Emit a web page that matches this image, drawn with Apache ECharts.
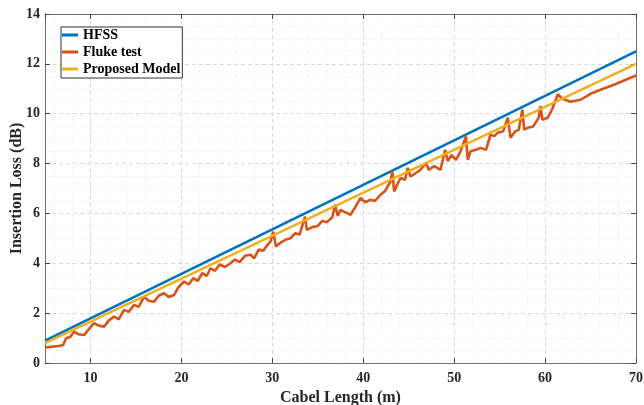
<!DOCTYPE html>
<html>
<head>
<meta charset="utf-8">
<script src="https://cdn.jsdelivr.net/npm/echarts@6/dist/echarts.min.js"></script>
<style>
html,body{margin:0;padding:0;background:#fff;}
#c{width:644px;height:405px;}
</style>
</head>
<body>
<div id="c"></div>
<script>
// ---- data ----
const hfssLen = [5, 70];
const hfssLoss = [0.9, 12.5];
const modelLen = [5, 70];
const modelLoss = [0.8, 12.0];
const flukeLen = [5,5.5,6,6.5,7,7.3,7.8,8.2,8.7,9.3,9.8,10.4,10.9,11.5,12,12.6,13.1,13.7,14.2,14.8,15.3,15.9,16.4,17,17.5,18.1,18.6,19.2,19.7,20.3,20.8,
  21.3,21.8,22.3,22.8,23.2,23.7,24.2,24.8,25.4,25.9,26.4,27,27.6,28,28.5,29,29.5,29.8,30.1,30.4,31,31.5,32,32.5,33,33.6,33.8,34.4,35,
  35.5,36,36.6,36.9,37.2,37.5,38,38.6,39.2,39.7,40.2,40.8,41.3,41.9,42.4,43,43.2,43.4,43.8,44.1,44.6,44.9,45.2,45.7,46.3,46.9,47.2,47.8,48.5,49,49.3,
  49.7,50.2,50.7,51.3,51.5,51.8,52.4,52.9,53.5,54,54.4,54.8,55.4,55.9,56.2,56.7,57.1,57.5,57.7,58.2,58.7,59.3,59.5,59.7,60.3,60.8,61.4,61.9,62.8,63.9,65,66.1,67.5,69,70];
const flukeLoss = [0.62,0.64,0.66,0.68,0.72,0.98,1.05,1.26,1.15,1.12,1.35,1.6,1.5,1.46,1.7,1.86,1.75,2.13,2.05,2.33,2.25,2.66,2.5,2.46,2.7,2.8,2.65,2.73,3.05,3.27,3.15,
  3.4,3.3,3.6,3.5,3.8,3.7,3.95,3.85,4.0,4.15,4.05,4.3,4.34,4.2,4.55,4.5,4.75,4.87,5.27,4.67,4.85,4.95,5.0,5.2,5.15,5.87,5.34,5.45,5.5,
  5.7,5.65,5.85,6.35,5.9,6.14,6.05,5.94,6.3,6.62,6.45,6.55,6.5,6.75,6.9,7.28,7.7,6.88,7.2,7.42,7.35,7.83,7.48,7.6,7.75,8.03,7.75,7.9,7.75,8.55,8.1,
  8.35,8.15,8.49,9.09,8.15,8.49,8.55,8.63,8.55,9.16,9.1,9.24,9.3,9.84,9.04,9.29,9.35,10.16,9.36,9.45,9.49,9.84,10.3,9.76,9.84,10.2,10.78,10.6,10.48,10.56,10.8,10.96,11.15,11.38,11.53];
const seriesNames = ['HFSS', 'Fluke test', 'Proposed Model'];
const yTicks = [0, 2, 4, 6, 8, 10, 12, 14];
const xTickLabels = [10, 20, 30, 40, 50, 60, 70];

const zip = (a, b) => a.map((v, i) => [v, b[i]]);
const font = '"Liberation Serif", "Times New Roman", serif';
const colors = ['#0072BD', '#D95319', '#EDB120'];

const chart = echarts.init(document.getElementById('c'), null, {renderer: 'canvas'});
const axisLineStyle = {color: '#6e6e6e', width: 1};
const splitLine = {show: true, lineStyle: {color: '#d9d9d9', type: [4, 3], width: 1}};
const minorSplit = {show: true, lineStyle: {color: '#ececec', type: [1, 2], width: 1}};

chart.setOption({
  animation: false,
  backgroundColor: '#fff',
  color: colors,
  textStyle: {fontFamily: font},
  grid: {left: 45, right: 8, top: 14, bottom: 42, containLabel: false, outerBoundsMode: 'none'},
  legend: {
    orient: 'vertical',
    left: 61, top: 27,
    data: seriesNames,
    icon: 'rect',
    itemWidth: 16, itemHeight: 3, itemGap: 3,
    padding: [1, 2, 2, 1],
    borderColor: '#333', borderWidth: 1, borderRadius: 0,
    backgroundColor: '#fff',
    textStyle: {fontFamily: font, fontWeight: 'bold', fontSize: 14, color: '#000', lineHeight: 14}
  },
  xAxis: [{
    type: 'value', min: 5, max: 70, splitNumber: 6,
    name: 'Cabel Length (m)', nameLocation: 'middle', nameGap: 27, nameMoveOverlap: false,
    nameTextStyle: {fontFamily: font, fontWeight: 'bold', fontSize: 16, color: '#262626'},
    axisLine: {show: true, lineStyle: axisLineStyle},
    axisTick: {show: true, inside: true, length: 5, lineStyle: {color: '#444'}},
    axisLabel: {showMinLabel: false, fontFamily: font, fontWeight: 'bold', fontSize: 14, color: '#262626', margin: 8,
      formatter: v => xTickLabels.includes(v) ? String(v) : ''},
    splitLine: splitLine,
    minorTick: {show: false, splitNumber: 5},
    minorSplitLine: minorSplit
  }, {
    type: 'value', min: 5, max: 70, splitNumber: 6, position: 'top',
    axisLine: {show: true, onZero: false, lineStyle: axisLineStyle},
    axisTick: {show: true, inside: true, length: 5, lineStyle: {color: '#444'}},
    axisLabel: {show: false}, splitLine: {show: false}
  }],
  yAxis: [{
    type: 'value', min: yTicks[0], max: yTicks[yTicks.length - 1], interval: 2,
    name: 'Insertion Loss (dB)', nameLocation: 'middle', nameGap: 20, nameRotate: 90, nameMoveOverlap: false,
    nameTextStyle: {fontFamily: font, fontWeight: 'bold', fontSize: 16, color: '#262626'},
    axisLine: {show: true, lineStyle: axisLineStyle},
    axisTick: {show: true, inside: true, length: 5, lineStyle: {color: '#444'}},
    axisLabel: {fontFamily: font, fontWeight: 'bold', fontSize: 14, color: '#262626', margin: 5},
    splitLine: splitLine,
    minorTick: {show: false, splitNumber: 4},
    minorSplitLine: minorSplit
  }, {
    type: 'value', min: yTicks[0], max: yTicks[yTicks.length - 1], interval: 2, position: 'right',
    axisLine: {show: true, onZero: false, lineStyle: axisLineStyle},
    axisTick: {show: true, inside: true, length: 5, lineStyle: {color: '#444'}},
    axisLabel: {show: false}, splitLine: {show: false}
  }],
  series: [
    {name: seriesNames[0], type: 'line', data: zip(hfssLen, hfssLoss), showSymbol: false, lineStyle: {width: 2.6, color: colors[0]}, itemStyle: {color: colors[0]}},
    {name: seriesNames[1], type: 'line', data: zip(flukeLen, flukeLoss), showSymbol: false, lineStyle: {width: 2.6, color: colors[1]}, itemStyle: {color: colors[1]}},
    {name: seriesNames[2], type: 'line', data: zip(modelLen, modelLoss), showSymbol: false, lineStyle: {width: 2.6, color: colors[2]}, itemStyle: {color: colors[2]}}
  ]
});
</script>
</body>
</html>
